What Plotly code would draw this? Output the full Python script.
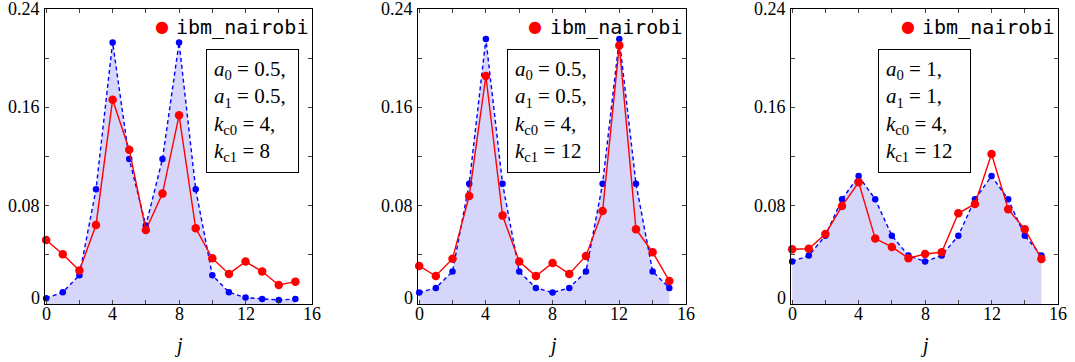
import plotly.graph_objects as go

W, H = 1075, 362

# ---------------- data ----------------
j = list(range(16))

theory_1 = [0.0047, 0.0096, 0.0234, 0.0933, 0.2128, 0.1180, 0.0638, 0.1180,
            0.2128, 0.0933, 0.0234, 0.0096, 0.0052, 0.0040, 0.0033, 0.0040]
nairobi_1 = [0.0521, 0.0405, 0.0272, 0.0643, 0.1662, 0.1255, 0.0602, 0.0898,
             0.1535, 0.0616, 0.0372, 0.0245, 0.0345, 0.0264, 0.0155, 0.0182]

theory_2 = [0.0093, 0.0131, 0.0264, 0.0979, 0.2155, 0.0979, 0.0264, 0.0131,
            0.0093, 0.0131, 0.0264, 0.0979, 0.2155, 0.0979, 0.0264, 0.0131]
nairobi_2 = [0.0310, 0.0228, 0.0369, 0.0879, 0.1855, 0.0719, 0.0345, 0.0228,
             0.0334, 0.0245, 0.0391, 0.0757, 0.2104, 0.0608, 0.0421, 0.0188]

theory_3 = [0.0345, 0.0394, 0.0556, 0.0852, 0.1041, 0.0852, 0.0556, 0.0394,
            0.0345, 0.0394, 0.0556, 0.0852, 0.1041, 0.0852, 0.0556, 0.0394]
nairobi_3 = [0.0445, 0.0450, 0.0570, 0.0797, 0.0990, 0.0532, 0.0464, 0.0372,
             0.0407, 0.0421, 0.0738, 0.0814, 0.1220, 0.0771, 0.0608, 0.0367]

a0_vals = ["0.5", "0.5", "1"]
a1_vals = ["0.5", "0.5", "1"]
kc0_vals = ["4", "4", "4"]
kc1_vals = ["8", "12", "12"]

legend_name = "ibm_nairobi"
x_title = "j"

x_tickvals = [0, 2, 4, 6, 8, 10, 12, 14, 16]
x_ticktext = ["0", "", "4", "", "8", "", "12", "", "16"]
y_tickvals = [0, 0.04, 0.08, 0.12, 0.16, 0.20, 0.24]
y_ticktext = ["0", "", "0.08", "", "0.16", "", "0.24"]

theory = [theory_1, theory_2, theory_3]
nairobi = [nairobi_1, nairobi_2, nairobi_3]

# ---------------- layout geometry (pixels) ----------------
panel_px = [(45, 312), (418, 686), (791, 1058)]
top_px, bot_px = 9, 304
xlabel_center_px = 314
xtitle_center_px = 345
box_px = [(205.7, 49), (506.7, 49), (878.3, 49)]
legend_marker_px = [(161.7, 26.5), (535, 26.5), (907.7, 26.5)]
legend_text_px = [(174, 27), (548, 27), (919.5, 27)]

def px_x(p):
    return p / W

def px_y(p):
    return 1 - p / H

SERIF = "Liberation Serif"
MONO = "DejaVu Sans Mono"
BLUE = "#0000ff"
RED = "#ff0000"
FILL = "rgb(214,214,250)"

fig = go.Figure()
layout = dict(
    width=W, height=H,
    margin=dict(l=0, r=0, t=0, b=0),
    paper_bgcolor="white", plot_bgcolor="white",
    showlegend=False,
    annotations=[],
)

for i in range(3):
    n = i + 1
    xa = "x" if n == 1 else f"x{n}"
    ya = "y" if n == 1 else f"y{n}"

    fig.add_trace(go.Scatter(
        x=j, y=theory[i], xaxis=xa, yaxis=ya, mode="lines+markers",
        line=dict(color=BLUE, width=1.4, dash="4px,3px"),
        marker=dict(color=BLUE, size=6.5),
        fill="tozeroy", fillcolor=FILL, showlegend=False, cliponaxis=False,
    ))
    fig.add_trace(go.Scatter(
        x=j, y=nairobi[i], xaxis=xa, yaxis=ya, mode="lines+markers",
        line=dict(color=RED, width=1.4),
        marker=dict(color=RED, size=8.5), name=legend_name,
        showlegend=False, cliponaxis=False,
    ))

    x0, x1 = panel_px[i]
    common = dict(
        showgrid=False, zeroline=False, showline=True, linecolor="black",
        linewidth=1, mirror="allticks", ticks="inside", ticklen=4,
        tickcolor="#444", tickwidth=1, showticklabels=False,
    )
    layout["xaxis" if n == 1 else f"xaxis{n}"] = dict(
        domain=[px_x(x0), px_x(x1)], range=[-0.07, 16.0], anchor=ya,
        tickmode="array", tickvals=x_tickvals,
        **common,
    )
    layout["yaxis" if n == 1 else f"yaxis{n}"] = dict(
        domain=[px_y(bot_px), px_y(top_px)], range=[0, 0.24], anchor=xa,
        tickmode="array", tickvals=y_tickvals,
        **common,
    )
    # x tick labels
    for v, t in zip(x_tickvals, x_ticktext):
        if not t:
            continue
        layout["annotations"].append(dict(
            x=v, xref=xa, y=px_y(xlabel_center_px), yref="paper", text=t,
            showarrow=False, xanchor="center", yanchor="middle",
            font=dict(family=SERIF, size=18, color="black"),
        ))
    # x axis title
    layout["annotations"].append(dict(
        x=0.5, xref=f"{xa} domain", y=px_y(xtitle_center_px), yref="paper",
        text=f"<i>{x_title}</i>", showarrow=False, xanchor="center", yanchor="middle",
        font=dict(family=SERIF, size=20, color="black"),
    ))
    # y tick labels (Mathematica lifts the "0" label slightly)
    for v, t in zip(y_tickvals, y_ticktext):
        if not t:
            continue
        layout["annotations"].append(dict(
            x=0, xref=f"{xa} domain", y=v, yref=ya, text=t, showarrow=False,
            xanchor="right", yanchor="middle", xshift=-3,
            yshift=6 if v == 0 else 0,
            font=dict(family=SERIF, size=18, color="black"),
        ))
    # parameter box
    bx, by = box_px[i]
    txt = (f"<i>a</i><sub>0</sub> = {a0_vals[i]},<br>"
           f"<i>a</i><sub>1</sub> = {a1_vals[i]},<br>"
           f"<i>k</i><sub>c0</sub> = {kc0_vals[i]},<br>"
           f"<i>k</i><sub>c1</sub> = {kc1_vals[i]}")
    layout["annotations"].append(dict(
        x=px_x(bx), y=px_y(by), xref="paper", yref="paper", text=txt,
        showarrow=False, xanchor="left", yanchor="top", align="left",
        width=77,
        bordercolor="black", borderwidth=1, borderpad=7, bgcolor="white",
        font=dict(family=SERIF, size=21, color="black"),
    ))
    # legend (marker glyph + label)
    mx, my = legend_marker_px[i]
    layout["annotations"].append(dict(
        x=px_x(mx), y=px_y(my), xref="paper", yref="paper", text="●",
        showarrow=False, xanchor="center", yanchor="middle",
        font=dict(family="DejaVu Sans", size=16, color=RED),
    ))
    tx, ty = legend_text_px[i]
    layout["annotations"].append(dict(
        x=px_x(tx), y=px_y(ty), xref="paper", yref="paper", text=legend_name,
        showarrow=False, xanchor="left", yanchor="middle",
        font=dict(family=MONO, size=20, color="black"),
    ))

fig.update_layout(**layout)
fig.write_html("out.html")
